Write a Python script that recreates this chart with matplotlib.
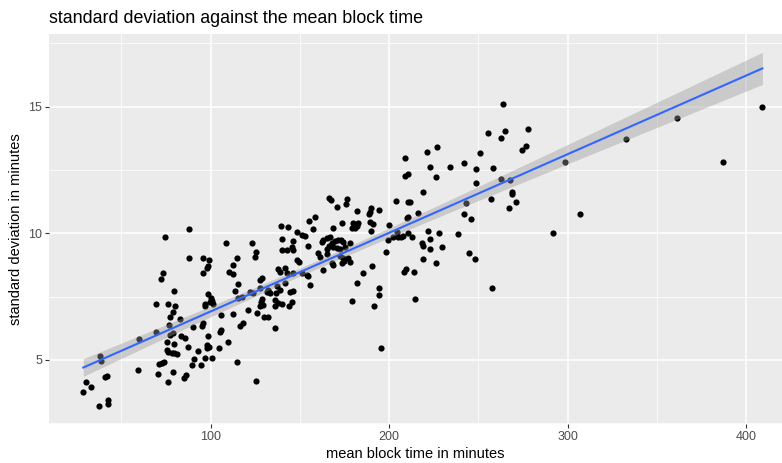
import numpy as np
import matplotlib.pyplot as plt

# mean block time (minutes) and its standard deviation (minutes)
block_mean = [
    74.2, 73.4, 72.3, 69.3, 76.1,
    77.0, 76.8, 69.5, 60.0, 77.2, 75.3, 38.1, 38.7, 40.9, 41.7, 30.3, 33.1, 28.6,
    37.6, 42.6, 42.6, 59.4, 71.0, 72.5, 73.8, 70.7, 76.1,
    79.8, 78.7, 82.8, 78.7, 83.2, 85.6, 79.6, 75.3, 76.2, 78.1, 79.6, 80.9, 87.1,
    79.0, 85.0, 86.2, 89.3, 90.8, 92.7, 94.4, 97.0, 100.9, 97.8, 99.0, 97.8, 98.3,
    104.8, 109.5, 105.2, 105.8, 90.2, 95.0, 95.5, 96.8, 97.0, 99.6, 101.5, 105.6,
    112.3, 116.4, 117.9, 121.1, 125.8, 128.2, 129.2, 127.6, 130.0, 132.4, 136.0,
    136.0, 138.0, 139.8, 144.0, 114.9, 125.2,
    87.7, 108.4, 123.0, 139.2, 143.5, 139.8, 140.0, 142.6, 125.4, 124.7, 87.7,
    95.5, 99.2, 98.3, 98.1, 114.9, 112.7, 110.4, 112.7, 95.5, 79.6, 115.1, 113.5,
    98.7, 100.0, 100.6, 127.6, 128.6, 122.0, 123.9, 117.4, 115.5, 127.6, 132.3,
    133.2, 131.4, 137.9, 138.8, 141.4, 142.6, 137.3, 138.8, 136.8, 141.6, 128.6,
    136.0,
    166.5, 167.3, 176.2, 175.7, 170.6, 181.8, 189.9, 189.3, 188.7, 194.3, 203.7,
    208.7, 210.6, 210.8, 158.5, 155.1, 157.5, 173.4, 179.6, 182.7, 182.2, 180.9,
    179.0, 189.3, 190.8, 189.7, 146.3, 145.7, 146.3, 148.2, 151.0, 152.9, 154.7,
    163.1, 162.2, 165.0, 166.9, 168.7, 171.5, 173.1, 174.4, 169.7, 167.8, 166.5,
    168.7, 170.6, 172.5, 175.3, 178.1, 165.0, 160.3, 161.3, 165.0, 172.5, 174.4,
    177.1, 178.1, 148.2, 149.5, 146.3, 144.5, 151.0, 153.8, 154.7, 162.8, 167.8,
    168.7, 173.4, 174.7, 155.7, 146.3, 145.4, 181.8, 185.6, 190.3, 194.6, 194.6,
    179.0, 191.5, 198.0, 199.6, 200.1, 202.4, 205.2, 204.6, 206.7, 210.8, 209.5,
    208.4,
    263.7, 255.3, 265.0, 262.7, 277.9, 276.6, 274.5, 226.7, 221.1, 208.7, 251.0,
    242.0, 234.1, 222.9, 248.7, 258.2, 226.1, 219.2, 248.7, 262.7, 267.9, 268.7,
    269.1, 271.0, 267.2, 256.9, 242.9, 242.0, 245.8, 211.7, 216.0, 210.8, 209.9,
    207.6, 212.7, 221.6, 228.0, 222.9, 218.3, 218.8, 222.9, 229.5, 238.5, 244.6,
    248.1, 218.8, 226.3, 213.8, 257.5, 214.4,
    195.3, 298.6, 332.8, 361.6, 409.2, 387.3, 307.0, 291.9,
]
block_sd = [
    9.87, 8.45, 8.21, 7.21, 7.21,
    6.71, 6.38, 6.09, 5.82, 5.99, 5.69, 5.16, 4.94, 4.32, 4.36, 4.13, 3.92, 3.74,
    3.17, 3.42, 3.27, 4.61, 4.84, 4.87, 4.90, 4.45, 4.13,
    7.13, 6.91, 6.61, 6.06, 5.96, 5.86, 5.63, 5.40, 5.33, 5.29, 5.27, 5.24, 5.52,
    4.54, 4.28, 4.42, 4.80, 5.03, 5.36, 4.80, 5.09, 5.08, 5.59, 5.53, 5.46, 5.95,
    5.46, 5.69, 6.12, 6.19, 6.32, 6.34, 6.47, 7.21, 7.11, 7.30, 7.21, 6.78,
    6.82, 6.34, 6.45, 6.98, 6.85, 7.30, 7.17, 7.11, 6.71, 6.71, 6.25,
    7.11, 7.24, 7.21, 7.13, 4.90, 4.17,
    10.17, 9.60, 9.60, 10.30, 10.23, 9.78, 9.34, 9.34, 9.28, 9.08, 9.04,
    9.04, 8.95, 8.71, 8.62, 9.03, 8.75, 8.49, 8.40, 8.45, 7.74, 8.00, 7.73,
    7.60, 7.44, 7.34, 8.16, 8.23, 7.67, 7.63, 7.48, 7.44, 7.83, 7.77,
    7.63, 7.67, 8.58, 8.49, 8.62, 8.42, 7.90, 7.77, 7.63, 8.03, 7.40,
    7.37,
    11.39, 11.32, 11.35, 11.15, 11.05, 10.90, 10.99, 10.83, 10.75, 10.92, 11.28,
    12.27, 12.36, 11.23, 10.66, 10.49, 10.17, 10.40, 10.42, 10.39, 10.29, 10.20,
    10.20, 10.46, 10.36, 10.11, 9.71, 9.45, 9.34, 10.07, 9.94, 9.90, 9.50,
    9.74, 9.67, 9.80, 9.87, 10.20, 9.74, 9.74, 9.67, 9.70, 9.61, 9.50,
    9.45, 9.41, 9.37, 9.45, 9.61, 9.37, 9.21, 9.08, 9.17, 9.11, 9.02,
    9.02, 8.88, 8.95, 8.88, 8.42, 7.70, 8.42, 8.36, 8.32, 8.55, 8.82,
    8.75, 8.82, 8.92, 7.96, 7.74, 7.30, 8.05, 8.42, 8.71, 7.83, 7.57,
    7.34, 7.13, 9.28, 9.74, 10.33, 9.87, 9.85, 10.07, 9.87, 10.00, 8.58,
    8.49,
    15.10, 13.97, 14.05, 13.78, 14.11, 13.46, 13.27, 13.42, 13.20, 12.98, 13.16,
    12.77, 12.63, 12.63, 12.55, 12.59, 12.24, 11.65, 12.00, 12.15, 12.11, 11.65,
    11.56, 11.25, 10.99, 11.35, 11.19, 10.77, 10.56, 11.25, 10.82, 10.66, 10.60,
    9.91, 9.87, 10.11, 10.03, 9.78, 9.61, 9.51, 9.38, 9.44, 9.96, 9.24,
    8.99, 8.99, 8.84, 8.49, 7.84, 7.42,
    5.46, 12.83, 13.72, 14.57, 15.00, 12.83, 10.77, 10.03,
]

x = np.array(block_mean)
y = np.array(block_sd)

# linear fit with 95% confidence band
slope, intercept = np.polyfit(x, y, 1)
xs = np.linspace(x.min(), x.max(), 80)
fit = intercept + slope * xs
resid = y - (intercept + slope * x)
n = len(x)
s = np.sqrt(np.sum(resid ** 2) / (n - 2))
se = s * np.sqrt(1 / n + (xs - x.mean()) ** 2 / np.sum((x - x.mean()) ** 2))
band = 1.969 * se

plt.rcParams['font.family'] = ['Liberation Sans', 'DejaVu Sans']

fig = plt.figure(figsize=(7.82, 4.63), dpi=100)
ax = fig.add_axes([0.0627, 0.0842, 0.9373, 0.8424])
ax.set_facecolor('#EBEBEB')
for sp in ax.spines.values():
    sp.set_visible(False)

ax.set_xlim(9.4, 420.2)
ax.set_ylim(2.47, 17.87)
ax.set_xticks([100, 200, 300, 400])
ax.set_yticks([5, 10, 15])
ax.set_xticks([50, 150, 250, 350], minor=True)
ax.set_yticks([2.5, 7.5, 12.5, 17.5], minor=True)
ax.grid(True, which='major', color='white', linewidth=1.1)
ax.grid(True, which='minor', color='white', linewidth=0.55)
ax.set_axisbelow(True)
ax.tick_params(which='major', length=3, width=0.8, color='#333333',
               labelcolor='#4D4D4D', labelsize=9, pad=2)
ax.tick_params(which='minor', length=0)

ax.scatter(x, y, s=20, color='black', linewidths=0, zorder=2)
ax.fill_between(xs, fit - band, fit + band, color='#999999', alpha=0.4,
                linewidth=0, zorder=3)
ax.plot(xs, fit, color='#3366FF', linewidth=1.5, zorder=4)

ax.set_xlabel('mean block time in minutes', fontsize=10.5, labelpad=3)
ax.set_ylabel('standard deviation in minutes', fontsize=10.5, labelpad=4)
fig.text(0.0627, 0.961, 'standard deviation against the mean block time',
         fontsize=12.9, va='center', ha='left')

fig.savefig('out.png', dpi=100)
